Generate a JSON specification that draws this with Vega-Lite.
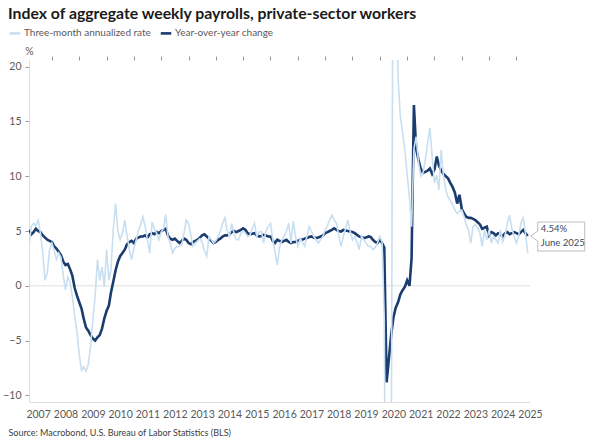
{
  "$schema": "https://vega.github.io/schema/vega-lite/v6.json",
  "width": 501,
  "height": 342,
  "autosize": {"type": "none"},
  "padding": {"left": 29, "top": 60, "right": 68, "bottom": 44},
  "background": "white",
  "title": {
    "text": "Index of aggregate weekly payrolls, private-sector workers",
    "anchor": "start",
    "frame": "group",
    "dx": -21,
    "fontSize": 15.8,
    "font": "Lato",
    "fontWeight": "bold",
    "color": "#1a1a1a",
    "offset": 3
  },
  "config": {
    "view": {"stroke": null},
    "font": "Lato",
    "axis": {"grid": false}
  },
  "data": {
    "values": [
      {"d":"2007-03","y":5.1,"a":3.7},{"d":"2007-04","y":4.7,"a":5.4},{"d":"2007-05","y":4.9,"a":5.7},{"d":"2007-06","y":5.2,"a":5.5},{"d":"2007-07","y":5.0,"a":6.0},{"d":"2007-08","y":4.9,"a":4.8},{"d":"2007-09","y":4.6,"a":3.0},{"d":"2007-10","y":4.4,"a":0.5},{"d":"2007-11","y":4.2,"a":1.2},{"d":"2007-12","y":4.1,"a":3.3},
      {"d":"2008-01","y":4.0,"a":3.9},{"d":"2008-02","y":3.6,"a":3.2},{"d":"2008-03","y":3.4,"a":2.4},{"d":"2008-04","y":3.1,"a":3.0},{"d":"2008-05","y":2.8,"a":2.6},{"d":"2008-06","y":2.2,"a":1.0},{"d":"2008-07","y":1.9,"a":-0.4},{"d":"2008-08","y":2.0,"a":0.8},{"d":"2008-09","y":1.5,"a":0.3},{"d":"2008-10","y":0.9,"a":-1.0},{"d":"2008-11","y":-0.2,"a":-2.8},{"d":"2008-12","y":-0.9,"a":-4.2},
      {"d":"2009-01","y":-1.5,"a":-6.3},{"d":"2009-02","y":-2.1,"a":-7.7},{"d":"2009-03","y":-3.0,"a":-7.4},{"d":"2009-04","y":-3.8,"a":-7.8},{"d":"2009-05","y":-4.1,"a":-7.2},{"d":"2009-06","y":-4.5,"a":-5.5},{"d":"2009-07","y":-4.8,"a":-3.1},{"d":"2009-08","y":-5.0,"a":-1.0},{"d":"2009-09","y":-4.7,"a":2.4},{"d":"2009-10","y":-4.5,"a":0.5},{"d":"2009-11","y":-3.9,"a":1.7},{"d":"2009-12","y":-3.0,"a":-0.1},
      {"d":"2010-01","y":-2.3,"a":3.3},{"d":"2010-02","y":-1.8,"a":0.5},{"d":"2010-03","y":-0.6,"a":1.5},{"d":"2010-04","y":0.4,"a":5.2},{"d":"2010-05","y":1.4,"a":7.5},{"d":"2010-06","y":2.2,"a":5.0},{"d":"2010-07","y":2.7,"a":4.2},{"d":"2010-08","y":3.0,"a":4.8},{"d":"2010-09","y":3.3,"a":6.0},{"d":"2010-10","y":3.8,"a":4.6},{"d":"2010-11","y":4.0,"a":3.3},{"d":"2010-12","y":4.1,"a":2.4},
      {"d":"2011-01","y":3.9,"a":3.4},{"d":"2011-02","y":4.3,"a":4.2},{"d":"2011-03","y":4.4,"a":5.0},{"d":"2011-04","y":4.5,"a":5.6},{"d":"2011-05","y":4.5,"a":6.3},{"d":"2011-06","y":4.6,"a":5.4},{"d":"2011-07","y":4.4,"a":4.2},{"d":"2011-08","y":4.7,"a":3.0},{"d":"2011-09","y":4.8,"a":5.8},{"d":"2011-10","y":4.7,"a":5.2},{"d":"2011-11","y":4.9,"a":4.8},{"d":"2011-12","y":4.8,"a":4.2},
      {"d":"2012-01","y":5.0,"a":4.9},{"d":"2012-02","y":5.1,"a":5.2},{"d":"2012-03","y":5.2,"a":6.5},{"d":"2012-04","y":4.6,"a":4.5},{"d":"2012-05","y":4.3,"a":3.9},{"d":"2012-06","y":4.2,"a":3.0},{"d":"2012-07","y":4.3,"a":3.4},{"d":"2012-08","y":4.1,"a":3.6},{"d":"2012-09","y":3.9,"a":3.6},{"d":"2012-10","y":4.1,"a":3.7},{"d":"2012-11","y":4.3,"a":4.8},{"d":"2012-12","y":4.2,"a":6.0},
      {"d":"2013-01","y":3.9,"a":5.7},{"d":"2013-02","y":3.8,"a":4.6},{"d":"2013-03","y":4.0,"a":3.6},{"d":"2013-04","y":4.1,"a":3.9},{"d":"2013-05","y":4.2,"a":4.1},{"d":"2013-06","y":4.4,"a":4.3},{"d":"2013-07","y":4.6,"a":4.0},{"d":"2013-08","y":4.7,"a":3.2},{"d":"2013-09","y":4.5,"a":2.7},{"d":"2013-10","y":4.3,"a":4.5},{"d":"2013-11","y":4.1,"a":4.2},{"d":"2013-12","y":3.9,"a":3.9},
      {"d":"2014-01","y":4.0,"a":4.1},{"d":"2014-02","y":4.2,"a":4.5},{"d":"2014-03","y":4.3,"a":5.0},{"d":"2014-04","y":4.5,"a":5.7},{"d":"2014-05","y":4.6,"a":6.2},{"d":"2014-06","y":4.6,"a":5.0},{"d":"2014-07","y":4.7,"a":4.5},{"d":"2014-08","y":4.9,"a":5.7},{"d":"2014-09","y":5.0,"a":4.8},{"d":"2014-10","y":4.9,"a":4.2},{"d":"2014-11","y":5.0,"a":4.2},{"d":"2014-12","y":5.1,"a":4.8},
      {"d":"2015-01","y":5.25,"a":5.0},{"d":"2015-02","y":5.1,"a":4.8},{"d":"2015-03","y":4.8,"a":4.5},{"d":"2015-04","y":4.7,"a":4.6},{"d":"2015-05","y":4.75,"a":5.2},{"d":"2015-06","y":4.8,"a":5.7},{"d":"2015-07","y":4.6,"a":4.5},{"d":"2015-08","y":4.5,"a":4.9},{"d":"2015-09","y":4.55,"a":4.95},{"d":"2015-10","y":4.65,"a":3.9},{"d":"2015-11","y":4.6,"a":5.0},{"d":"2015-12","y":4.5,"a":5.4},
      {"d":"2016-01","y":4.5,"a":5.7},{"d":"2016-02","y":4.1,"a":4.2},{"d":"2016-03","y":3.9,"a":3.1},{"d":"2016-04","y":4.2,"a":1.9},{"d":"2016-05","y":4.1,"a":3.5},{"d":"2016-06","y":4.0,"a":4.2},{"d":"2016-07","y":4.1,"a":4.5},{"d":"2016-08","y":4.2,"a":5.0},{"d":"2016-09","y":4.0,"a":5.7},{"d":"2016-10","y":3.9,"a":3.9},{"d":"2016-11","y":4.0,"a":5.9},{"d":"2016-12","y":4.0,"a":4.5},
      {"d":"2017-01","y":4.1,"a":3.6},{"d":"2017-02","y":4.2,"a":4.3},{"d":"2017-03","y":4.2,"a":4.0},{"d":"2017-04","y":4.3,"a":3.6},{"d":"2017-05","y":4.35,"a":4.5},{"d":"2017-06","y":4.45,"a":5.4},{"d":"2017-07","y":4.5,"a":5.0},{"d":"2017-08","y":4.4,"a":4.5},{"d":"2017-09","y":4.35,"a":4.2},{"d":"2017-10","y":4.4,"a":3.9},{"d":"2017-11","y":4.5,"a":4.2},{"d":"2017-12","y":4.6,"a":4.5},
      {"d":"2018-01","y":4.8,"a":5.1},{"d":"2018-02","y":4.9,"a":5.5},{"d":"2018-03","y":5.0,"a":6.0},{"d":"2018-04","y":5.1,"a":6.45},{"d":"2018-05","y":5.25,"a":6.0},{"d":"2018-06","y":5.1,"a":5.7},{"d":"2018-07","y":5.0,"a":4.6},{"d":"2018-08","y":4.95,"a":3.6},{"d":"2018-09","y":5.1,"a":4.5},{"d":"2018-10","y":5.05,"a":5.2},{"d":"2018-11","y":5.0,"a":6.0},{"d":"2018-12","y":4.95,"a":5.0},
      {"d":"2019-01","y":4.9,"a":4.2},{"d":"2019-02","y":4.8,"a":4.5},{"d":"2019-03","y":4.65,"a":4.0},{"d":"2019-04","y":4.5,"a":3.3},{"d":"2019-05","y":4.4,"a":4.5},{"d":"2019-06","y":4.35,"a":4.2},{"d":"2019-07","y":4.4,"a":3.9},{"d":"2019-08","y":4.5,"a":3.6},{"d":"2019-09","y":4.45,"a":3.6},{"d":"2019-10","y":4.2,"a":3.3},{"d":"2019-11","y":4.0,"a":3.5},{"d":"2019-12","y":3.9,"a":3.9},
      {"d":"2020-01","y":4.2,"a":4.5},{"d":"2020-02","y":3.9,"a":4.0},{"d":"2020-03","y":3.5,"a":-3.0},{"d":"2020-04","y":-8.8,"a":-40},{"d":"2020-05","y":-6.7,"a":-45},{"d":"2020-06","y":-4.5,"a":-20},{"d":"2020-07","y":-2.9,"a":45},{"d":"2020-08","y":-2.0,"a":35},{"d":"2020-09","y":-1.5,"a":19},{"d":"2020-10","y":-0.8,"a":15.5},{"d":"2020-11","y":-0.4,"a":14},{"d":"2020-12","y":-0.1,"a":12.4},
      {"d":"2021-01","y":0.5,"a":10.2},{"d":"2021-02","y":0.0,"a":8.0},{"d":"2021-03","y":2.5,"a":5.4},{"d":"2021-04","y":16.5,"a":12.5},{"d":"2021-05","y":12.5,"a":13.6},{"d":"2021-06","y":11.5,"a":11.3},{"d":"2021-07","y":10.7,"a":10.0},{"d":"2021-08","y":10.3,"a":10.3},{"d":"2021-09","y":10.4,"a":11.5},{"d":"2021-10","y":10.5,"a":13.0},{"d":"2021-11","y":10.7,"a":14.4},{"d":"2021-12","y":10.2,"a":11.8},
      {"d":"2022-01","y":10.6,"a":9.4},{"d":"2022-02","y":11.8,"a":10.1},{"d":"2022-03","y":11.0,"a":8.75},{"d":"2022-04","y":10.5,"a":12.4},{"d":"2022-05","y":10.2,"a":10.0},{"d":"2022-06","y":10.0,"a":8.75},{"d":"2022-07","y":9.8,"a":8.1},{"d":"2022-08","y":9.4,"a":7.8},{"d":"2022-09","y":9.0,"a":7.4},{"d":"2022-10","y":8.5,"a":6.9},{"d":"2022-11","y":7.5,"a":6.6},{"d":"2022-12","y":8.3,"a":6.8},
      {"d":"2023-01","y":7.0,"a":6.9},{"d":"2023-02","y":6.6,"a":6.3},{"d":"2023-03","y":6.3,"a":5.6},{"d":"2023-04","y":6.2,"a":5.1},{"d":"2023-05","y":6.2,"a":3.9},{"d":"2023-06","y":6.1,"a":5.4},{"d":"2023-07","y":6.0,"a":5.6},{"d":"2023-08","y":5.8,"a":5.3},{"d":"2023-09","y":5.6,"a":4.8},{"d":"2023-10","y":5.2,"a":3.6},{"d":"2023-11","y":5.3,"a":5.1},{"d":"2023-12","y":5.4,"a":4.2},
      {"d":"2024-01","y":4.6,"a":5.1},{"d":"2024-02","y":4.9,"a":3.9},{"d":"2024-03","y":4.8,"a":4.5},{"d":"2024-04","y":4.6,"a":4.2},{"d":"2024-05","y":4.8,"a":3.9},{"d":"2024-06","y":4.7,"a":5.1},{"d":"2024-07","y":4.5,"a":4.0},{"d":"2024-08","y":4.8,"a":4.6},{"d":"2024-09","y":4.9,"a":5.7},{"d":"2024-10","y":4.7,"a":6.45},{"d":"2024-11","y":4.8,"a":5.2},{"d":"2024-12","y":4.9,"a":4.5},
      {"d":"2025-01","y":4.8,"a":3.9},{"d":"2025-02","y":4.7,"a":4.6},{"d":"2025-03","y":4.9,"a":5.7},{"d":"2025-04","y":5.1,"a":6.2},{"d":"2025-05","y":4.8,"a":4.8},{"d":"2025-06","y":4.54,"a":3.0}
    ],
    "format": {"parse": {"d": "utc:'%Y-%m'"}}
  },
  "resolve": {"axis": {"x": "independent", "y": "independent"}},
  "layer": [
    {
      "data": {"values": [{"z": 0}]},
      "mark": {"type": "rule", "color": "#dedede", "strokeWidth": 1},
      "encoding": {
        "y": {"field": "z", "type": "quantitative", "scale": {"domain": [-10.6, 20.6], "nice": false, "zero": false}, "axis": null}
      }
    },
    {
      "mark": {"type": "line", "strokeWidth": 2.6, "clip": true},
      "encoding": {
        "x": {
          "field": "d", "type": "temporal",
          "scale": {"type": "utc", "domain": [{"year": 2007, "month": 3, "date": 1, "utc": true}, {"year": 2025, "month": 7, "date": 1, "utc": true}], "nice": false},
          "axis": {
            "values": [
              {"year": 2007, "month": 7, "date": 1, "utc": true}, {"year": 2008, "month": 7, "date": 1, "utc": true}, {"year": 2009, "month": 7, "date": 1, "utc": true}, {"year": 2010, "month": 7, "date": 1, "utc": true}, {"year": 2011, "month": 7, "date": 1, "utc": true}, {"year": 2012, "month": 7, "date": 1, "utc": true}, {"year": 2013, "month": 7, "date": 1, "utc": true}, {"year": 2014, "month": 7, "date": 1, "utc": true}, {"year": 2015, "month": 7, "date": 1, "utc": true}, {"year": 2016, "month": 7, "date": 1, "utc": true}, {"year": 2017, "month": 7, "date": 1, "utc": true}, {"year": 2018, "month": 7, "date": 1, "utc": true}, {"year": 2019, "month": 7, "date": 1, "utc": true}, {"year": 2020, "month": 7, "date": 1, "utc": true}, {"year": 2021, "month": 7, "date": 1, "utc": true}, {"year": 2022, "month": 7, "date": 1, "utc": true}, {"year": 2023, "month": 7, "date": 1, "utc": true}, {"year": 2024, "month": 7, "date": 1, "utc": true}, {"year": 2025, "month": 7, "date": 1, "utc": true}
            ],
            "format": "%Y",
            "ticks": false,
            "domain": true,
            "domainColor": "#dedede",
            "labelColor": "#595959",
            "labelFontSize": 10.5,
            "labelPadding": 7,
            "labelFlush": false,
            "labelOverlap": false,
            "title": "Source: Macrobond, U.S. Bureau of Labor Statistics (BLS)",
            "titleX": -21,
            "titleY": 30,
            "titleAlign": "left",
            "titleAnchor": "start",
            "titleBaseline": "middle",
            "titleFontSize": 9,
            "titleFontWeight": "normal",
            "titleColor": "#404040"
          }
        },
        "y": {
          "field": "y", "type": "quantitative",
          "scale": {"domain": [-10.6, 20.6], "nice": false, "zero": false},
          "axis": {
            "values": [-10, -5, 0, 5, 10, 15, 20],
            "tickSize": 4,
            "tickColor": "#999999",
            "domainColor": "#dedede",
            "labelColor": "#595959",
            "labelFontSize": 10.5,
            "labelPadding": 4,
            "title": "%",
            "titleAngle": 0,
            "titleX": 0,
            "titleY": -9,
            "titleAlign": "center",
            "titleBaseline": "middle",
            "titleFontSize": 10.5,
            "titleFontWeight": "normal",
            "titleColor": "#595959"
          }
        },
        "color": {
          "datum": "Year-over-year change",
          "type": "nominal",
          "scale": {"domain": ["Three-month annualized rate", "Year-over-year change"], "range": ["#c8dff1", "#1b3c6e"]},
          "legend": {
            "title": null,
            "orient": "none",
            "legendX": -21,
            "legendY": -34,
            "direction": "horizontal",
            "symbolType": "stroke",
            "symbolSize": 110,
            "symbolStrokeWidth": 2.6,
            "labelFontSize": 10,
            "labelColor": "#595959",
            "labelOffset": 2,
            "columnPadding": 4
          }
        }
      }
    },
    {
      "mark": {"type": "line", "strokeWidth": 1.6, "clip": true},
      "encoding": {
        "x": {
          "field": "d", "type": "temporal",
          "scale": {"type": "utc", "domain": [{"year": 2007, "month": 3, "date": 1, "utc": true}, {"year": 2025, "month": 7, "date": 1, "utc": true}], "nice": false},
          "axis": {
            "values": [
              {"year": 2008, "month": 1, "date": 1, "utc": true}, {"year": 2009, "month": 1, "date": 1, "utc": true}, {"year": 2010, "month": 1, "date": 1, "utc": true}, {"year": 2011, "month": 1, "date": 1, "utc": true}, {"year": 2012, "month": 1, "date": 1, "utc": true}, {"year": 2013, "month": 1, "date": 1, "utc": true}, {"year": 2014, "month": 1, "date": 1, "utc": true}, {"year": 2015, "month": 1, "date": 1, "utc": true}, {"year": 2016, "month": 1, "date": 1, "utc": true}, {"year": 2017, "month": 1, "date": 1, "utc": true}, {"year": 2018, "month": 1, "date": 1, "utc": true}, {"year": 2019, "month": 1, "date": 1, "utc": true}, {"year": 2020, "month": 1, "date": 1, "utc": true}, {"year": 2021, "month": 1, "date": 1, "utc": true}, {"year": 2022, "month": 1, "date": 1, "utc": true}, {"year": 2023, "month": 1, "date": 1, "utc": true}, {"year": 2024, "month": 1, "date": 1, "utc": true}, {"year": 2025, "month": 1, "date": 1, "utc": true}
            ],
            "labels": false,
            "ticks": true,
            "tickSize": 4,
            "tickColor": "#999999",
            "domain": false,
            "title": null
          }
        },
        "y": {
          "field": "a", "type": "quantitative",
          "scale": {"domain": [-10.6, 20.6], "nice": false, "zero": false},
          "axis": null
        },
        "color": {
          "datum": "Three-month annualized rate",
          "type": "nominal",
          "scale": {"domain": ["Three-month annualized rate", "Year-over-year change"], "range": ["#c8dff1", "#1b3c6e"]}
        }
      }
    },
    {
      "data": {"values": [{"when": "2025-06-01", "v": 4.54, "label": "4.54%\nJune 2025"}]},
      "mark": {"type": "point", "shape": "M3,0L10,-5L10,-14L57,-14L57,15L10,15L10,5Z", "size": 4, "filled": true, "fill": "white", "stroke": "#bdbdbd", "strokeWidth": 1, "opacity": 1},
      "encoding": {
        "x": {"field": "when", "type": "temporal", "scale": {"type": "utc", "domain": [{"year": 2007, "month": 3, "date": 1, "utc": true}, {"year": 2025, "month": 7, "date": 1, "utc": true}], "nice": false}, "axis": null},
        "y": {"field": "v", "type": "quantitative", "scale": {"domain": [-10.6, 20.6], "nice": false, "zero": false}, "axis": null}
      }
    },
    {
      "data": {"values": [{"when": "2025-06-01", "v": 4.54, "label": "4.54%\nJune 2025"}]},
      "mark": {"type": "text", "align": "left", "baseline": "middle", "dx": 13, "dy": -7, "fontSize": 9.5, "color": "#3a4a5e", "lineBreak": "\n", "lineHeight": 14},
      "encoding": {
        "x": {"field": "when", "type": "temporal", "scale": {"type": "utc", "domain": [{"year": 2007, "month": 3, "date": 1, "utc": true}, {"year": 2025, "month": 7, "date": 1, "utc": true}], "nice": false}, "axis": null},
        "y": {"field": "v", "type": "quantitative", "scale": {"domain": [-10.6, 20.6], "nice": false, "zero": false}, "axis": null},
        "text": {"field": "label"}
      }
    }
  ]
}
